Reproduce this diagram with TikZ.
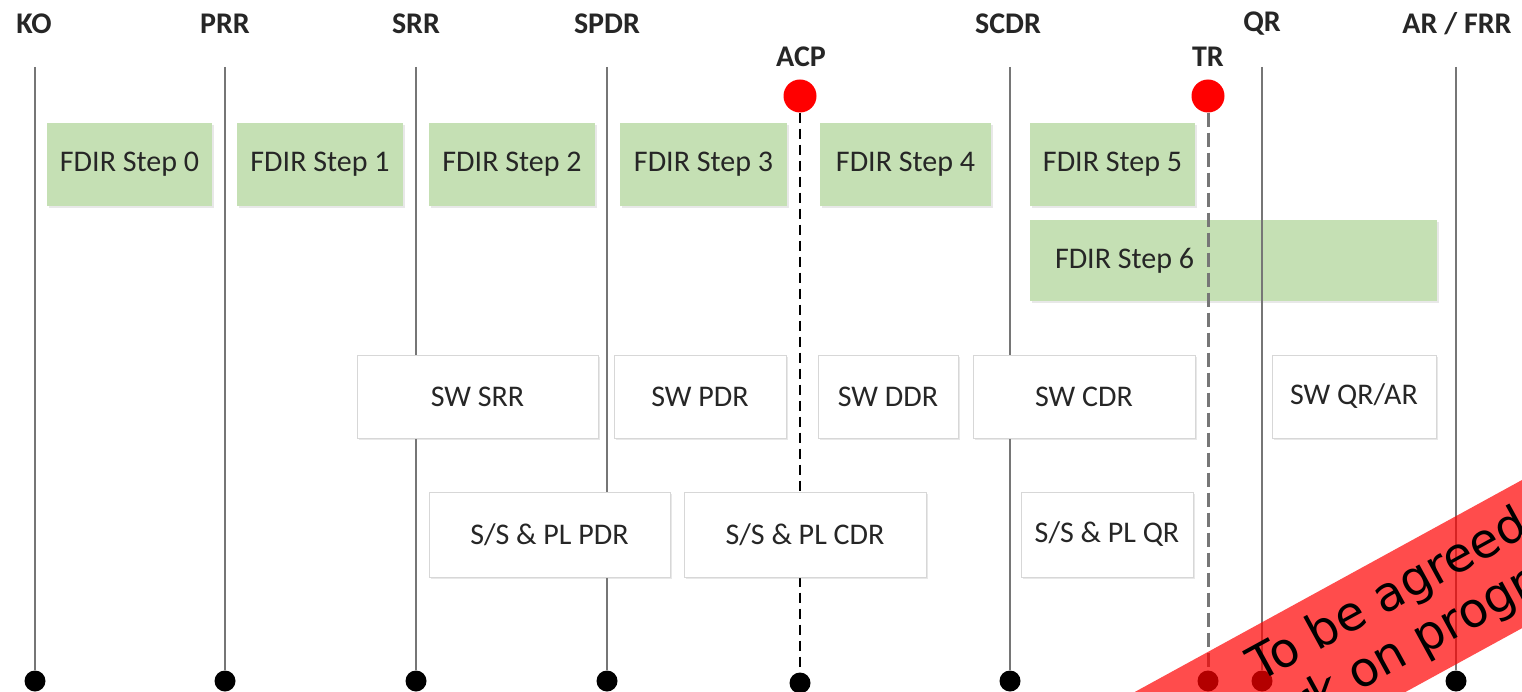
\documentclass[tikz,border=0pt]{standalone}
\usepackage{fontspec}
\setmainfont{Carlito}
\newfontfamily\stampfont{DejaVu Sans}
\usetikzlibrary{shadows}
\definecolor{fgreen}{RGB}{197,224,180}
\definecolor{lgray}{RGB}{118,118,118}
\definecolor{txt}{RGB}{38,38,38}
\definecolor{wborder}{RGB}{215,215,215}
\begin{document}
\begin{tikzpicture}[x=1pt,y=1pt,
  lbl/.style={font=\fontsize{30}{36}\selectfont\bfseries, text=txt, inner sep=0pt},
  gbox/.style={fill=fgreen, draw=none, font=\fontsize{30}{36}\selectfont, text=txt, inner sep=0pt,
    drop shadow={shadow xshift=1.5pt, shadow yshift=-2pt, opacity=0.18}},
  wbox/.style={fill=white, draw=wborder, line width=0.8pt, font=\fontsize{30}{36}\selectfont, text=txt, inner sep=0pt,
    drop shadow={shadow xshift=1.5pt, shadow yshift=-2pt, opacity=0.18}},
  tl/.style={draw=lgray, line width=2.4pt},
  acpline/.style={draw=black, line width=2.4pt, dash pattern=on 10pt off 6pt},
  trline/.style={draw=lgray, line width=3pt, dash pattern=on 14pt off 6pt},
  bdot/.style={circle, fill=black, minimum size=21pt, inner sep=0pt},
  rdot/.style={circle, fill=red, minimum size=33pt, inner sep=0pt},
  stamp/.style={font=\stampfont\fontsize{48}{56}\selectfont, text=black, inner sep=0pt}
]
\useasboundingbox (0,0) rectangle (1522,-692);
\clip (0,0) rectangle (1522,-692);

% milestone labels
\node[lbl] (lko)   at (34,-24)   {KO};
\node[lbl] (lprr)  at (225,-24)  {PRR};
\node[lbl] (lsrr)  at (416,-24)  {SRR};
\node[lbl] (lspdr) at (607,-24)  {SPDR};
\node[lbl] (lacp)  at (801,-57)  {ACP};
\node[lbl] (lscdr) at (1008,-24) {SCDR};
\node[lbl] (ltr)   at (1208,-57) {TR};
\node[lbl] (lqr)   at (1262,-24) {QR};
\node[lbl] (lar)   at (1457,-24) {AR / FRR};

% top coordinates
\coordinate (koT)   at (35,-67);
\coordinate (prrT)  at (225,-67);
\coordinate (srrT)  at (416,-67);
\coordinate (spdrT) at (607,-67);
\coordinate (scdrT) at (1010,-67);
\coordinate (qrT)   at (1262,-67);
\coordinate (arT)   at (1456,-67);

% red dots
\node[rdot] (acpD) at (800,-96) {};
\node[rdot] (trD)  at (1208,-96) {};

% bottom dots
\node[bdot] (koB)   at (35,-681) {};
\node[bdot] (prrB)  at (225,-681) {};
\node[bdot] (srrB)  at (416,-681) {};
\node[bdot] (spdrB) at (607,-681) {};
\node[bdot] (acpB)  at (800,-683) {};
\node[bdot] (scdrB) at (1010,-681) {};
\node[bdot] (trB)   at (1208,-681) {};
\node[bdot] (qrB)   at (1262,-681) {};
\node[bdot] (arB)   at (1456,-681) {};

% FDIR step 6 lies under the lines
\node[gbox, minimum width=407pt, minimum height=81pt] (s6) at (1233.5,-260.5) {\makebox[357pt][l]{FDIR Step 6}};

% vertical lines
\draw[tl] (koT) -- (koB);
\draw[tl] (prrT) -- (prrB);
\draw[tl] (srrT) -- (srrB);
\draw[tl] (spdrT) -- (spdrB);
\draw[tl] (scdrT) -- (scdrB);
\draw[tl] (qrT) -- (qrB);
\draw[tl] (arT) -- (arB);
\draw[acpline] (acpD.south) -- (acpB);
\draw[trline] (trD.south) -- (trB);

% FDIR steps
\node[gbox, minimum width=165pt, minimum height=83pt] (s0) at (129.5,-164.5) {FDIR Step 0};
\node[gbox, minimum width=166pt, minimum height=83pt] (s1) at (320,-164.5)   {FDIR Step 1};
\node[gbox, minimum width=166pt, minimum height=83pt] (s2) at (512,-164.5)   {FDIR Step 2};
\node[gbox, minimum width=167pt, minimum height=83pt] (s3) at (703.5,-164.5) {FDIR Step 3};
\node[gbox, minimum width=171pt, minimum height=83pt] (s4) at (905.5,-164.5) {FDIR Step 4};
\node[gbox, minimum width=165pt, minimum height=83pt] (s5) at (1112.5,-164.5){FDIR Step 5};

% SW reviews
\node[wbox, minimum width=241pt, minimum height=83pt] (swsrr) at (477.5,-396.5) {SW SRR};
\node[wbox, minimum width=172pt, minimum height=83pt] (swpdr) at (700,-396.5)   {SW PDR};
\node[wbox, minimum width=140pt, minimum height=83pt] (swddr) at (888,-396.5)   {SW DDR};
\node[wbox, minimum width=222pt, minimum height=83pt] (swcdr) at (1084,-396.5)  {SW CDR};
\node[wbox, minimum width=164pt, minimum height=83pt] (swqr)  at (1354,-396.5)  {SW QR/AR};

% S/S & PL reviews
\node[wbox, minimum width=241pt, minimum height=85pt] (sspdr) at (549.5,-534.5) {S/S \& PL PDR};
\node[wbox, minimum width=242pt, minimum height=85pt] (sscdr) at (805,-534.5)   {S/S \& PL CDR};
\node[wbox, minimum width=172pt, minimum height=85pt] (ssqr)  at (1107,-534.5)  {S/S \& PL QR};

% stamp
\begin{scope}[shift={(1153,-682)}, rotate=28.7, transform shape]
  \fill[red, fill opacity=0.7] (-300,0) rectangle (800,-130);
  \node[stamp, anchor=base] (st1) at (248,-52)  {To be agreed};
  \node[stamp, anchor=base] (st2) at (248,-107) {Work on progress};
\end{scope}
\end{tikzpicture}
\end{document}
